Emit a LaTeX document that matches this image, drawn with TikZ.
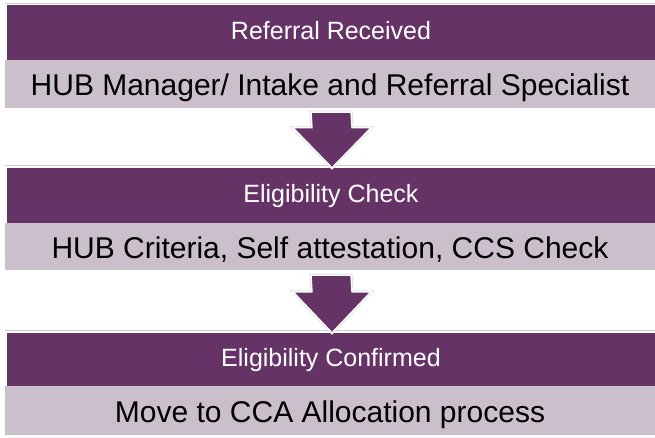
\documentclass[tikz,border=0pt]{standalone}
\usepackage{fontspec}
\setmainfont{Liberation Sans}
\usetikzlibrary{calc}
\definecolor{hubpurple}{RGB}{102,51,102}
\definecolor{hublight}{RGB}{203,191,204}
\definecolor{hubrule}{RGB}{205,205,205}
\tikzset{
  purplebar/.style={fill=hubpurple, draw=none, minimum width=648pt, minimum height=55pt,
    inner sep=0pt, text=white, font=\fontsize{25}{30}\selectfont,
    text height=17.9pt, text depth=3pt},
  lightbar/.style={fill=hublight, draw=none, minimum width=650pt, inner sep=0pt,
    text=black, font=\fontsize{30}{36}\selectfont,
    text height=23pt, text depth=0pt},
  toprule/.style={draw=hubrule, line width=0.9pt},
  arrowhalo/.style={draw=black!12, line width=3pt, line join=miter},
  blockarrow/.style={fill=hubpurple, draw=white, line width=1.4pt, line join=miter},
}
\begin{document}
\begin{tikzpicture}[x=1pt,y=-1pt]
\useasboundingbox (0,0) rectangle (655,438);
% blocks
\node[purplebar] (p1) at (331,32.5) {Referral Received};
\node[lightbar, minimum height=48pt] (l1) at (330,84) {HUB Manager/ Intake and Referral Specialist};
\node[purplebar] (p2) at (331,195.5) {Eligibility Check};
\node[lightbar, minimum height=47pt] (l2) at (330,246.5) {HUB Criteria, Self attestation, CCS Check};
\node[purplebar, minimum height=53pt] (p3) at (331,359.5) {Eligibility Confirmed};
\node[lightbar, minimum height=49pt] (l3) at (330,410.5) {Move to CCA Allocation process};
% thin rules above the purple bars
\draw[toprule] ($(p1.north west)+(-2,-1)$) -- ($(p1.north east)+(0,-1)$);
\draw[toprule] ($(p2.north west)+(-2,-2)$) -- ($(p2.north east)+(0,-2)$);
\draw[toprule] ($(p3.north west)+(-2,-2)$) -- ($(p3.north east)+(0,-2)$);
% block arrows
\foreach \up/\dn/\gap/\neck in {l1/p2/4/40, l2/p3/5/41}{
  \path[arrowhalo] ($(\up.south)+(-19,\gap)$) -- ($(\up.south)+(21,\gap)$) -- ($(\dn.north)+(21,-\neck)$)
    -- ($(\dn.north)+(40,-\neck)$) -- ($(\dn.north)+(1,0)$) -- ($(\dn.north)+(-38,-\neck)$)
    -- ($(\dn.north)+(-19,-\neck)$) -- cycle;
  \draw[blockarrow] ($(\up.south)+(-19,\gap)$) -- ($(\up.south)+(21,\gap)$) -- ($(\dn.north)+(21,-\neck)$)
    -- ($(\dn.north)+(40,-\neck)$) -- ($(\dn.north)+(1,0)$) -- ($(\dn.north)+(-38,-\neck)$)
    -- ($(\dn.north)+(-19,-\neck)$) -- cycle;
}
\end{tikzpicture}
\end{document}
